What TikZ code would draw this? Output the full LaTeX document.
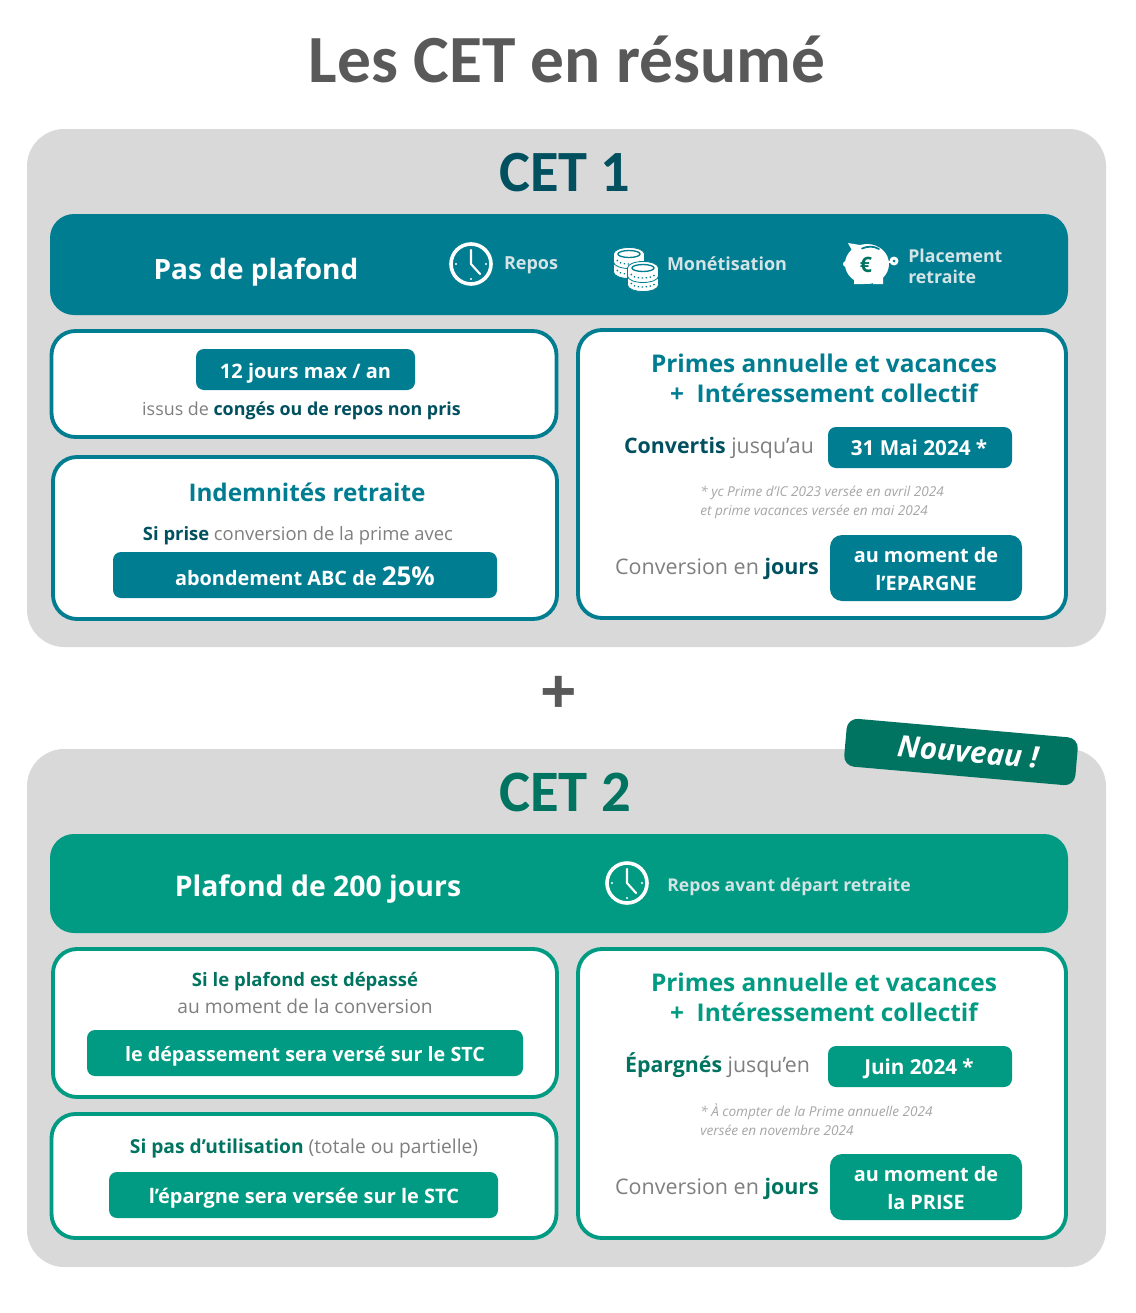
\documentclass[tikz,border=0pt]{standalone}
\usepackage{fontspec}
\setmainfont{Open Sans}
\newfontfamily\calfnt{Carlito}
\definecolor{teal}{HTML}{007D91}
\definecolor{dteal}{HTML}{00505F}
\definecolor{grn}{HTML}{009B82}
\definecolor{dgrn}{HTML}{007460}
\definecolor{panel}{HTML}{D9D9D9}
\definecolor{ttl}{HTML}{595959}
\definecolor{gtx}{HTML}{7F7F7F}
\definecolor{note}{HTML}{A6A6A6}
\definecolor{lbl}{HTML}{D3E3E6}
\newcommand{\fs}[1]{\fontsize{#1}{#1}\selectfont}
\newcommand{\bd}[1]{\textbf{#1}}
\tikzset{
 x=0.75pt,y=-0.75pt,
 panelbox/.style={fill=panel,rounded corners=28pt},
 headbox/.style={rounded corners=18pt},
 cardbox/.style={fill=white,line width=2.9pt,rounded corners=18pt},
 pill/.style={rounded corners=6pt},
 txt/.style={inner sep=0pt,align=center,anchor=center},
 wh/.style={txt,text=white,font=\bfseries},
}
\newcommand{\clockicon}[2]{%
 \draw[white,line width=2.7pt] (#1,#2) circle[radius=20];
 \draw[white,line width=1.6pt,line cap=round,line join=round] (#1,#2-14) -- (#1,#2) -- (#1+9,#2+10);
 \fill[white] (#1,#2+15) circle[radius=1.2] (#1+15,#2) circle[radius=1.2] (#1-15,#2) circle[radius=1.2];
}
\newcommand{\coin}[2]{%
 \filldraw[fill=white,draw=teal,line width=.6pt] (#1-15.5,#2-3) arc[start angle=180,end angle=360,x radius=15.5,y radius=6.5] -- ++(0,8) arc[start angle=0,end angle=180,x radius=15.5,y radius=6.5] -- cycle;
 \draw[teal,line width=1pt] (#1,#2-3) ellipse[x radius=11,y radius=3.5];
 \draw[teal,line width=1pt,dash pattern=on 1pt off 2pt] (#1-12,#2+3) arc[start angle=180,end angle=0,x radius=12,y radius=4];
}
\begin{document}
\begin{tikzpicture}
\useasboundingbox (0,0) rectangle (1135,1313);
\fill[white] (0,0) rectangle (1135,1313);
\node[txt,text=ttl,font=\calfnt\bfseries\fs{50.6}] (title) at (567,59) {Les CET en résumé};
% CET 1
\fill[panelbox] (27,129) rectangle (1106,647);
\node[txt,text=dteal,font=\calfnt\bfseries\fs{43.8}] (cet1) at (565,173) {CET 1};
\fill[teal,headbox] (50,214) rectangle (1068,315);
\node[wh,font=\bfseries\fs{21}] (h1) at (256,272) {Pas de plafond};
\clockicon{471}{264}
\node[txt,text=lbl,font=\bfseries\fs{13.5}] (l1) at (531,265) {Repos};
\coin{629}{267}\coin{629}{257}\coin{643}{280}\coin{643}{271}
\node[txt,text=lbl,font=\bfseries\fs{13.5}] (l2) at (727,264) {Monétisation};
% piggy
\fill[white] (867,264) ellipse[x radius=22,y radius=20];
\fill[white] (848,243) -- (866,246) -- (856,258) -- cycle;
\fill[white] (854,275) rectangle (864,284) (873,275) rectangle (883,284);
\fill[white] (846,264) circle[radius=3];
\draw[white,line width=2pt] (887,262) -- (893,262);
\fill[white] (894,261) circle[radius=4.5];
\fill[teal] (894,261) circle[radius=1.5];
\draw[teal,line width=1.3pt,line cap=round] (862,248.5) .. controls (868,246) and (874,246) .. (879,249);
\node[txt,text=dgrn,font=\bfseries\fs{16}] (eur) at (866,265) {€};
\node[txt,text=lbl,font=\bfseries\fs{13.3},align=left,anchor=west] (l3) at (908,266.5) {Placement\\[2pt]retraite};
% left cards
\filldraw[cardbox,draw=teal] (51.5,331) rectangle (556.5,437);
\fill[teal,pill] (196,349) rectangle (415,390);
\node[wh,font=\bfseries\fs{15}] (a1) at (305.5,373) {12 jours max / an};
\node[txt,text=gtx,font=\fs{13.4}] (a2) at (301.5,411) {issus de \textcolor{dteal}{\bd{congés ou de repos non pris}}};
\filldraw[cardbox,draw=teal] (53,457) rectangle (557,619);
\node[txt,text=teal,font=\bfseries\fs{18.2}] (b1) at (307,492) {Indemnités retraite};
\node[txt,text=gtx,font=\fs{13.8}] (b2) at (298,536) {\textcolor{dteal}{\bd{Si prise}} conversion de la prime avec};
\fill[teal,pill] (113,552) rectangle (497,598);
\node[wh,font=\bfseries\fs{14.9}] (b3) at (305,576) {abondement ABC de {\fs{19.5}25\%}};
% right card
\filldraw[cardbox,draw=teal] (578,330) rectangle (1066,618);
\node[txt,text=teal,font=\bfseries\fs{18.3}] (c1) at (824,378) {Primes annuelle et vacances\\[4pt]+\ \ Intéressement collectif};
\node[txt,text=gtx,font=\fs{16}] (c2) at (719,448) {\textcolor{dteal}{\bd{Convertis}} jusqu’au};
\fill[teal,pill] (828,427) rectangle (1012,468);
\node[wh,font=\bfseries\fs{15.5}] (c3) at (919,448) {31 Mai 2024 *};
\node[txt,text=note,font=\itshape\fs{10.2},align=left,anchor=west] (c4) at (700,502.5) {* yc Prime d’IC 2023 versée en avril 2024\\[3pt]et prime vacances versée en mai 2024};
\node[txt,text=gtx,font=\fs{16.1}] (c5) at (717,569) {Conversion en \textcolor{dteal}{\bd{jours}}};
\fill[teal,pill,rounded corners=9pt] (830,535) rectangle (1022,601);
\node[wh,font=\bfseries\fs{14.9}] (c6) at (926,569) {au moment de\\[6.5pt]l’EPARGNE};
% plus
\node[txt,text=ttl,font=\bfseries\fs{48}] (plus) at (559,695) {+};
% CET 2
\fill[panelbox] (27,749) rectangle (1106,1267);
\node[txt,text=dgrn,font=\calfnt\bfseries\fs{44}] (cet2) at (565,792) {CET 2};
\node[rotate=-5,fill=dgrn,rounded corners=8pt,minimum width=174pt,minimum height=36pt,inner sep=0pt] (nv) at (961,752) {};
\node[rotate=-5,txt,text=white,font=\bfseries\itshape\fs{22.3}] (nvt) at (968,752) {Nouveau !};
\fill[grn,headbox] (50,834) rectangle (1068,933);
\node[wh,font=\bfseries\fs{21.3}] (h2) at (318,889) {Plafond de 200 jours};
\clockicon{627}{883}
\node[txt,text=lbl,font=\bfseries\fs{13.2}] (l4) at (789,887) {Repos avant départ retraite};
\filldraw[cardbox,draw=grn] (53,949) rectangle (557,1097);
\node[txt,text=dgrn,font=\bfseries\fs{13.9}] (d1) at (305,982) {Si le plafond est dépassé};
\node[txt,text=gtx,font=\fs{14.4}] (d2) at (305,1006) {au moment de la conversion};
\fill[grn,pill] (87,1030) rectangle (523,1076);
\node[wh,font=\bfseries\fs{14.8}] (d3) at (305,1056) {le dépassement sera versé sur le STC};
\filldraw[cardbox,draw=grn] (51.5,1114) rectangle (556.5,1238);
\node[txt,text=gtx,font=\fs{14.4}] (e1) at (304,1148) {\textcolor{dgrn}{\bd{Si pas d’utilisation}} (totale ou partielle)};
\fill[grn,pill] (109,1172) rectangle (498,1218);
\node[wh,font=\bfseries\fs{15}] (e2) at (304,1198) {l’épargne sera versée sur le STC};
\filldraw[cardbox,draw=grn] (578,949) rectangle (1066,1238);
\node[txt,text=grn,font=\bfseries\fs{18.3}] (f1) at (824,997.5) {Primes annuelle et vacances\\[4pt]+\ \ Intéressement collectif};
\node[txt,text=gtx,font=\fs{16}] (f2) at (717.5,1065) {\textcolor{dgrn}{\bd{Épargnés}} jusqu’en};
\fill[grn,pill] (828,1046) rectangle (1012,1087);
\node[wh,font=\bfseries\fs{15.5}] (f3) at (919,1069) {Juin 2024 *};
\node[txt,text=note,font=\itshape\fs{10.2},align=left,anchor=west] (f4) at (700,1120) {* À compter de la Prime annuelle 2024\\[3pt]versée en novembre 2024};
\node[txt,text=gtx,font=\fs{16.1}] (f5) at (717,1189) {Conversion en \textcolor{dgrn}{\bd{jours}}};
\fill[grn,pill,rounded corners=9pt] (830,1154) rectangle (1022,1220);
\node[wh,font=\bfseries\fs{14.9}] (f6) at (926,1188) {au moment de\\[6.5pt]la PRISE};
\end{tikzpicture}
\end{document}
